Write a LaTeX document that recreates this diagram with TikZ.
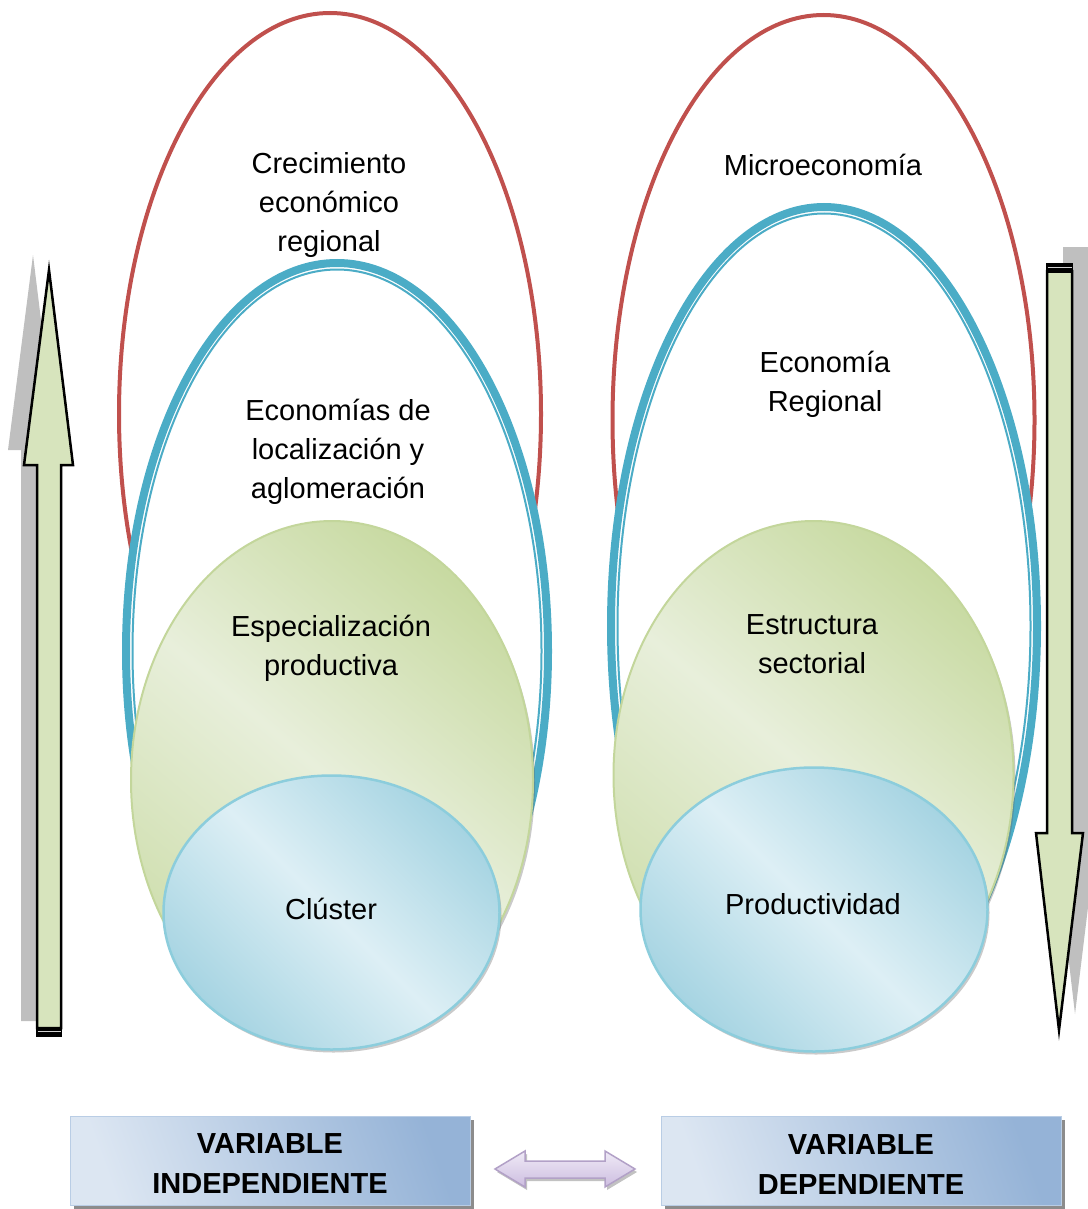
\documentclass[tikz,border=0pt]{standalone}
\usepackage{fontspec}
\setmainfont{Liberation Sans}
\usetikzlibrary{shadows}
\definecolor{redl}{HTML}{C0504D}
\definecolor{teal}{HTML}{4BACC6}
\definecolor{gbord}{HTML}{C3D69B}
\definecolor{gdark}{HTML}{C8DAA2}
\definecolor{glight}{HTML}{E8EFDB}
\definecolor{cbord}{HTML}{8CCDDC}
\definecolor{cdark}{HTML}{A6D4E2}
\definecolor{clight}{HTML}{DDEFF5}
\definecolor{arrfill}{HTML}{D7E4BD}
\definecolor{shad}{HTML}{BFBFBF}
\definecolor{bxlight}{HTML}{DCE6F2}
\definecolor{bxdark}{HTML}{95B3D7}
\definecolor{bxbord}{HTML}{B9CDE5}
\definecolor{pfill}{HTML}{EFEAF6}
\definecolor{pdark}{HTML}{CDBDE0}
\definecolor{pbord}{HTML}{B2A1C7}
\tikzset{
  lbl/.style={align=center,font=\fontsize{29}{39}\selectfont,inner sep=0pt},
  blbl/.style={align=center,font=\fontsize{29}{40}\selectfont\bfseries,inner sep=0pt},
  redring/.style={draw=redl,line width=4},
  tealthick/.style={draw=teal,line width=8,fill=white},
  tealthin/.style={draw=teal,line width=2},
  greenell/.style={draw=gbord,line width=2,top color=gdark,bottom color=gdark!80!glight,middle color=glight,shading angle=-40,
     drop shadow={shadow xshift=2pt,shadow yshift=-3pt,opacity=0.35,fill=black!60}},
  cyanell/.style={draw=cbord,line width=2.5,top color=cdark,bottom color=cdark,middle color=clight,shading angle=-45,
     drop shadow={shadow xshift=2pt,shadow yshift=-3pt,opacity=0.35,fill=black!60}},
  bigarrow/.style={draw=black,line width=2.5,fill=arrfill,line join=miter},
  arrshadow/.style={fill=shad,draw=none},
  varbox/.style={draw=bxbord,line width=1,left color=bxlight,right color=bxdark,shading angle=110},
  boxshadow/.style={fill=black!45,draw=none},
  darrow/.style={draw=pbord,line width=1.5,top color=pfill,bottom color=pdark,
     drop shadow={shadow xshift=2pt,shadow yshift=-3pt,opacity=0.4,fill=black!60}}
}
\begin{document}
\begin{tikzpicture}[x=1pt,y=-1pt]
\useasboundingbox (0,0) rectangle (1087,1209);
% ---------- left arrow (up) ----------
\fill[arrshadow] (21,1021) -- (21,450) -- (8,450) -- (33,255) -- (57,450) -- (45,450) -- (45,1021) -- cycle;
\path[bigarrow] (37,1028) -- (37,465) -- (24,465) -- (49,270) -- (73,465) -- (61,465) -- (61,1028) -- cycle;
\fill[black] (35.75,1027) rectangle (62.25,1037);
\draw[shad!70!white,line width=1.5] (37.5,1031.5) -- (60.5,1031.5);
% ---------- right arrow (down) ----------
\fill[arrshadow] (1063,247) -- (1088,247) -- (1088,817) -- (1099,817) -- (1075,1014) -- (1052,817) -- (1063,817) -- cycle;
\path[bigarrow] (1047,271) -- (1072,271) -- (1072,833) -- (1083,833) -- (1059,1030) -- (1036,833) -- (1047,833) -- cycle;
\fill[black] (1045.75,263) rectangle (1073.25,273);
\draw[shad!70!white,line width=1.5] (1047.5,267.5) -- (1071.5,267.5);
% ---------- left group ----------
\draw[redring] (330,414) ellipse [x radius=211, y radius=401];
\path[tealthick] (337,651) ellipse [x radius=211, y radius=388];
\draw[tealthin] (337,651) ellipse [x radius=204.5, y radius=381.5];
\path[greenell] (332,780) ellipse [x radius=201, y radius=259];
\path[cyanell] (331.5,912.5) ellipse [x radius=168, y radius=137];
% ---------- right group ----------
\draw[redring] (823.5,420) ellipse [x radius=211, y radius=405];
\path[tealthick] (824,626) ellipse [x radius=213, y radius=419];
\draw[tealthin] (824,626) ellipse [x radius=206.5, y radius=412.5];
\path[greenell] (813.5,775) ellipse [x radius=200, y radius=254];
\path[cyanell] (814,909.5) ellipse [x radius=173.5, y radius=142];
% ---------- labels ----------
\node[lbl] (crec) at (329,205) {Crecimiento\\económico\\regional};
\node[lbl] (econloc) at (338,452) {Economías de\\localización y\\aglomeración};
\node[lbl] (espec) at (331,648) {Especialización\\productiva};
\node[lbl] (clus) at (331,909) {Clúster};
\node[lbl] (micro) at (823,165) {Microeconomía};
\node[lbl] (ereg) at (825,384) {Economía\\Regional};
\node[lbl] (estr) at (812,644) {Estructura\\sectorial};
\node[lbl] (prod) at (813,904) {Productividad};
% ---------- bottom boxes ----------
\fill[boxshadow] (74,1120) rectangle (474,1209);
\path[varbox] (70,1116) rectangle (470,1205);
\fill[boxshadow] (665,1120) rectangle (1065,1209);
\path[varbox] (661,1116) rectangle (1061,1205);
\node[blbl] (vi) at (270,1164) {VARIABLE\\INDEPENDIENTE};
\node[blbl] (vd) at (861,1165) {VARIABLE\\DEPENDIENTE};
\coordinate (dal) at (495,1169);
\coordinate (dar) at (635,1169);
\path[darrow] (dal) -- (525,1151) -- (525,1161) -- (605,1161) -- (605,1151) -- (dar) -- (605,1187) -- (605,1178) -- (525,1178) -- (525,1187) -- cycle;
\end{tikzpicture}
\end{document}
